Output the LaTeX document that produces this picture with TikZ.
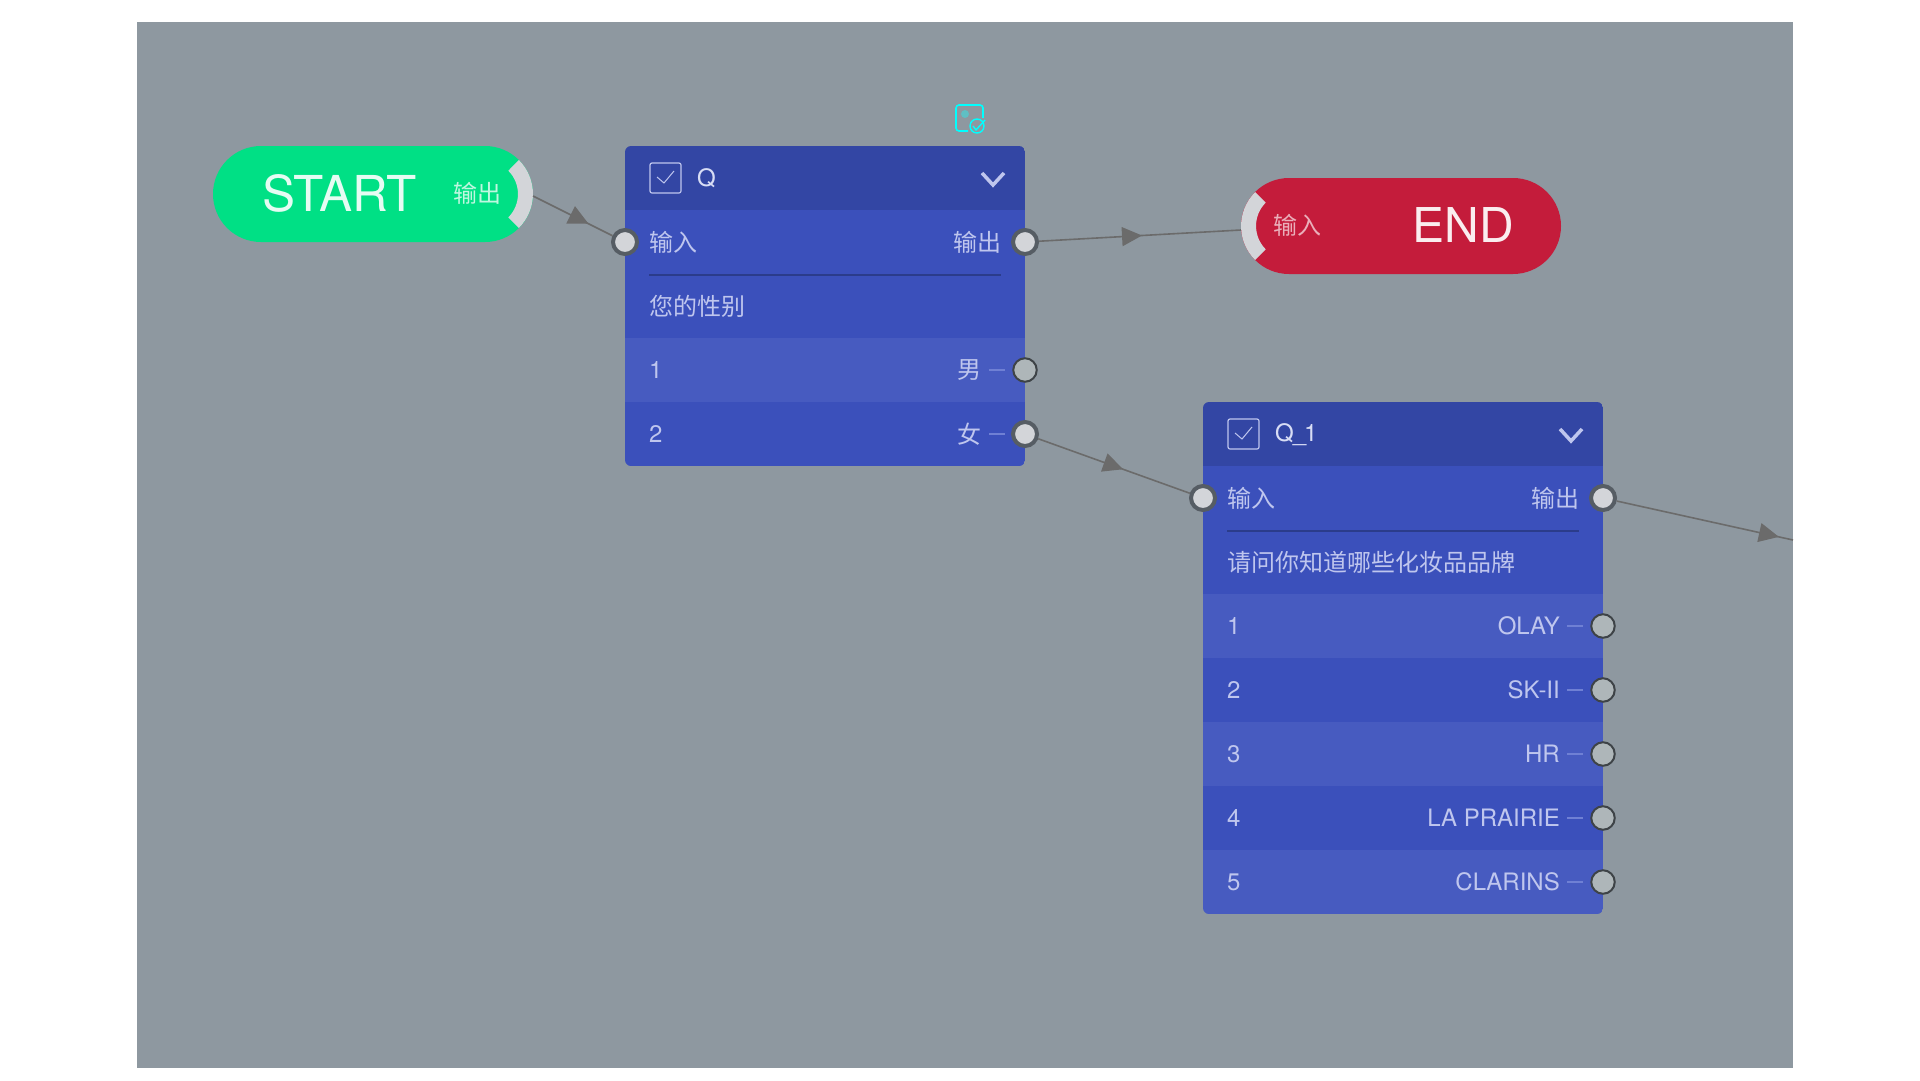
\documentclass[tikz,border=0pt]{standalone}
\usepackage{fontspec}
\setmainfont{TeX Gyre Heros}
\newfontfamily\cjk{Noto Sans CJK SC}
\usepackage{tikz}
\usetikzlibrary{arrows.meta, decorations.markings}
\definecolor{canvasbg}{HTML}{8E98A0}
\definecolor{headblue}{HTML}{3346A4}
\definecolor{rowblue}{HTML}{3B50BB}
\definecolor{rowlight}{HTML}{475BC0}
\definecolor{cardtext}{HTML}{BFC6EE}
\definecolor{startgreen}{HTML}{00E085}
\definecolor{endred}{HTML}{C41C3B}
\definecolor{wiregray}{HTML}{6B6B6B}
\definecolor{arcgray}{HTML}{D3D5D9}
\definecolor{portedge}{HTML}{565D64}
\definecolor{portfill}{HTML}{AEB6B9}
\definecolor{portdark}{HTML}{3E4347}
\definecolor{ticklight}{HTML}{6F80D4}
\definecolor{iconcyan}{HTML}{00FFFF}
\definecolor{icondot}{HTML}{5FBFC4}

\tikzset{
  cardrow/.style={rectangle, minimum width=400pt, minimum height=64pt, inner sep=0pt, outer sep=0pt, anchor=north west},
  pill/.style={rectangle, rounded corners=48pt, minimum width=320pt, minimum height=96pt, inner sep=0pt},
  cardlabel/.style={inner sep=0pt, text=cardtext, font=\fontsize{24}{28}\selectfont},
  zhlabel/.style={cardlabel, font=\cjk\fontsize{24}{28}\selectfont},
  portbig/.style={circle, fill=arcgray, draw=portedge, line width=4pt, minimum size=24pt, inner sep=0pt},
  portsmall/.style={circle, fill=portfill, draw=portdark, line width=2pt, minimum size=23.5pt, inner sep=0pt},
  tickline/.style={draw=ticklight, line width=1.5pt},
  wire/.style={draw=wiregray, line width=1.6pt, postaction={decorate},
    decoration={markings, mark=at position #1 with {\arrow[wiregray]{Triangle[length=20pt,width=19pt]}}}},
}

\begin{document}
\begin{tikzpicture}[x=1pt, y=-1pt]
  \useasboundingbox (0,0) rectangle (1920,1080);
  \fill[canvasbg] (137,22) rectangle (1793,1068);

  % start and end
  \node[pill, fill=startgreen] (startpill) at (373,194) {};
  \fill[arcgray] (518.9,227.9) arc[start angle=-45, end angle=45, radius=48pt]
    -- (508.3,170.7) arc[start angle=45, end angle=-45, radius=33pt] -- cycle;
  \node[inner sep=0pt, text=startgreen!10!white, font=\fontsize{49.5}{54}\selectfont] (starttext) at (339.5,193.5) {START};
  \node[zhlabel, text=startgreen!25!white] (startout) at (477,193) {输出};
  \coordinate (startport) at (533,196);

  \node[pill, fill=endred] (endpill) at (1401,226) {};
  \fill[arcgray] (1255.1,192.1) arc[start angle=135, end angle=225, radius=48pt]
    -- (1265.7,249.3) arc[start angle=225, end angle=135, radius=33pt] -- cycle;
  \node[inner sep=0pt, text=endred!8!white, font=\fontsize{48}{54}\selectfont] (endtext) at (1463,225) {END};
  \node[zhlabel, text=endred!35!white] (endin) at (1297,225) {输入};
  \coordinate (endport) at (1241,230);

  % first card
  \begin{scope}
    \clip[rounded corners=6pt] (625,146) rectangle (1025,466);
    \node[cardrow, fill=headblue] (qhead) at (625,146) {};
    \node[cardrow, fill=rowblue] (qports) at (625,210) {};
    \node[cardrow, fill=rowblue] (qtitle) at (625,274) {};
    \node[cardrow, fill=rowlight] (qrowa) at (625,338) {};
    \node[cardrow, fill=rowblue] (qrowb) at (625,402) {};
  \end{scope}
  \draw[cardtext, line width=1.2pt, rounded corners=2pt] (650,163) rectangle (681,193);
  \draw[cardtext, line width=1pt] (657,177) -- (664,183) -- (674,171);
  \node[cardlabel, anchor=west, text=cardtext!60!white] (qname) at (697,178.5) {Q};
  \draw[cardtext, line width=3.5pt] (982,173) -- (993,185) -- (1004,173);
  \node[zhlabel, anchor=west] (qin) at (649,242) {输入};
  \node[zhlabel, anchor=east] (qout) at (1002,242) {输出};
  \draw[draw=headblue!85!black, line width=2pt] (649,275) -- (1001,275);
  \node[zhlabel, anchor=west] (qask) at (649,306) {您的性别};
  \foreach \i/\lab in {1/男,2/女} {
    \pgfmathsetmacro{\rowy}{306+64*\i}
    \node[cardlabel, anchor=west] (qnum\i) at (649,\rowy) {\i};
    \node[zhlabel, anchor=east] (qlab\i) at (982,\rowy) {\lab};
    \draw[tickline] (989,\rowy) -- (1005,\rowy);
  }
  \node[portbig] (qportin) at (625,242) {};
  \node[portbig] (qportout) at (1025,242) {};
  \node[portsmall] (qport1) at (1025,370) {};
  \node[portbig] (qport2) at (1025,434) {};

  % second card
  \begin{scope}
    \clip[rounded corners=6pt] (1203,402) rectangle (1603,914);
    \node[cardrow, fill=headblue] (rhead) at (1203,402) {};
    \node[cardrow, fill=rowblue] (rports) at (1203,466) {};
    \node[cardrow, fill=rowblue] (rtitle) at (1203,530) {};
    \foreach \i/\col in {1/rowlight,2/rowblue,3/rowlight,4/rowblue,5/rowlight} {
      \pgfmathsetmacro{\rowy}{530+64*\i}
      \node[cardrow, fill=\col] (rrow\i) at (1203,\rowy) {};
    }
  \end{scope}
  \draw[cardtext, line width=1.2pt, rounded corners=2pt] (1228,419) rectangle (1259,449);
  \draw[cardtext, line width=1pt] (1235,433) -- (1242,439) -- (1252,427);
  \node[cardlabel, anchor=west, text=cardtext!60!white] (rname) at (1275,434.5) {Q\kern-1pt\_\kern-2pt 1};
  \draw[cardtext, line width=3.5pt] (1560,429) -- (1571,441) -- (1582,429);
  \node[zhlabel, anchor=west] (rin) at (1227,498) {输入};
  \node[zhlabel, anchor=east] (rout) at (1580,498) {输出};
  \draw[draw=headblue!85!black, line width=2pt] (1227,531) -- (1579,531);
  \node[zhlabel, anchor=west] (rask) at (1227,562) {请问你知道哪些化妆品品牌};
  \foreach \i/\lab in {1/OLAY,2/SK-II,3/HR,4/LA PRAIRIE,5/CLARINS} {
    \pgfmathsetmacro{\rowy}{562+64*\i}
    \node[cardlabel, anchor=west] (rnum\i) at (1227,\rowy) {\i};
    \node[cardlabel, anchor=east] (rlab\i) at (1560,\rowy) {\lab};
    \draw[tickline] (1567,\rowy) -- (1583,\rowy);
    \node[portsmall] (rport\i) at (1603,\rowy) {};
  }
  \node[portbig] (rportin) at (1203,498) {};
  \node[portbig] (rportout) at (1603,498) {};

  % icon above the first card
  \draw[iconcyan, line width=1.6pt, rounded corners=3pt]
    (983,118) -- (983,105) -- (956,105) -- (956,131) -- (968,131);
  \fill[icondot] (965,114) circle[radius=4pt];
  \draw[iconcyan, line width=1.4pt] (977,126) circle[radius=7pt];
  \draw[iconcyan, line width=1.4pt] (973,126) -- (976,130) -- (985,120);

  % links
  \coordinate (offedge) at (1793,540);
  \draw[wire=0.70] (startport) -- (qportin);
  \draw[wire=0.51] (qportout) -- (endport);
  \draw[wire=0.56] (qport2) -- (rportin);
  \draw[wire=0.92] (rportout) -- (offedge);
\end{tikzpicture}
\end{document}
